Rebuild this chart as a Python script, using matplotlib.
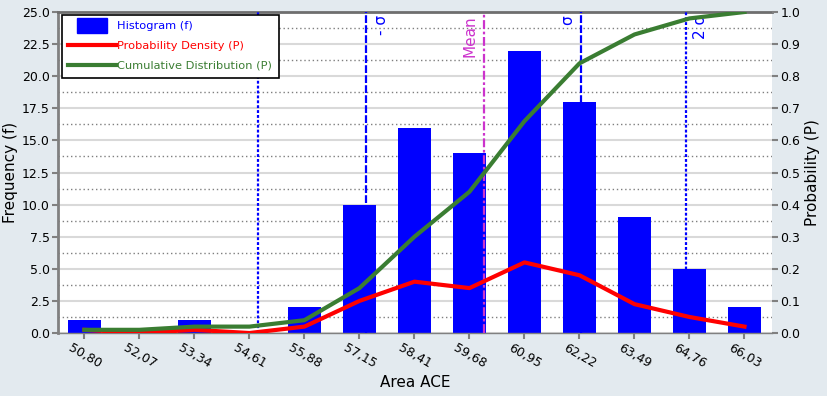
import matplotlib.pyplot as plt
import matplotlib.patches as mpatches
import matplotlib.transforms as mtransforms
from matplotlib.lines import Line2D
from matplotlib.legend_handler import HandlerPatch
import numpy as np

plt.rcParams['font.family'] = ['DejaVu Sans']

# data
bin_labels = ['50,80', '52,07', '53,34', '54,61', '55,88', '57,15', '58,41',
              '59,68', '60,95', '62,22', '63,49', '64,76', '66,03']
bin_centers = [50.80, 52.07, 53.34, 54.61, 55.88, 57.15, 58.41,
               59.68, 60.95, 62.22, 63.49, 64.76, 66.03]
frequency = [1, 0, 1, 0, 2, 10, 16, 14, 22, 18, 9, 5, 2]
density = [0.01, 0.0, 0.01, 0.0, 0.02, 0.10, 0.16, 0.14, 0.22, 0.18, 0.09, 0.05, 0.02]
cumulative = [0.01, 0.01, 0.02, 0.02, 0.04, 0.14, 0.30, 0.44, 0.66, 0.84, 0.93, 0.98, 1.00]

marker_names = ['- σ', 'Mean', 'σ', '2 σ']
marker_values = [57.30, 60.02, 62.25, 64.67]
minus2sigma = 54.81

BLUE = '#0000ff'
RED = '#ff0000'
GREEN = '#3a7d32'
MAGENTA = '#cc33cc'
BG = '#e3eaef'

fig = plt.figure(figsize=(8.27, 3.96), dpi=100, facecolor=BG)
ax = fig.add_axes([0.0701, 0.159, 0.8634, 0.8107])
ax2 = ax.twinx()

x = np.arange(len(bin_labels))
ax.bar(x, frequency, width=0.6, color=BLUE, zorder=2)

ax.set_xlim(-0.48, 12.5)
ax.set_ylim(0, 25)
ax.set_yticks(np.arange(0, 25.01, 2.5))
ax.set_yticks(np.arange(1.25, 25, 2.5), minor=True)
ax.yaxis.set_major_formatter(plt.FormatStrFormatter('%.1f'))
ax.yaxis.grid(True, which='major', color='#d9d9d9', lw=1.5)
ax.yaxis.grid(True, which='minor', color='#7f7f7f', ls=(0, (1, 2)), lw=1)
ax.set_axisbelow(True)
ax.set_xticks(x)
ax.set_xticklabels(bin_labels, rotation=-30, ha='center', fontsize=9)
ax.tick_params(axis='y', which='minor', length=0)
ax.tick_params(axis='y', which='major', length=4, width=1.5, color='#808080', labelsize=9, pad=2)
ax.tick_params(axis='x', length=4, width=1.5, color='#808080', pad=2)

ax.spines['top'].set_color('#6e6e6e')
ax.spines['top'].set_linewidth(2)
ax.spines['left'].set_color('#808080')
ax.spines['left'].set_linewidth(2)
ax.spines['bottom'].set_color('#808080')
ax.spines['bottom'].set_linewidth(1)
ax.spines['right'].set_visible(False)

ax.set_xlabel('Area ACE', fontsize=11, labelpad=3)
ax.set_ylabel('Frequency (f)', fontsize=11, labelpad=3)

# sigma / mean lines
xpos = np.interp(marker_values + [minus2sigma], bin_centers, x)
trans = mtransforms.blended_transform_factory(ax.transData, ax.transAxes)
styles = {
    '- σ': dict(color=BLUE, ls=(0, (3.5, 1)), lw=1.6),
    'Mean': dict(color=MAGENTA, ls=(0, (4, 1.2, 1.2, 1.2)), lw=1.6),
    'σ': dict(color=BLUE, ls=(0, (3.5, 1)), lw=1.6),
    '2 σ': dict(color=BLUE, ls=(0, (1.3, 0.9)), lw=1.6),
}
offsets = {'- σ': 0.29, 'Mean': -0.25, 'σ': -0.24, '2 σ': 0.27}
for name, xp in zip(marker_names, xpos[:4]):
    st = styles[name]
    ax.axvline(xp, zorder=3, **st)
    ax.text(xp + offsets[name], 0.99, name, transform=trans, rotation=90,
            ha='center', va='top', color=st['color'], fontsize=11)
ax.axvline(xpos[4], zorder=3, color=BLUE, ls=(0, (1.3, 0.9)), lw=1.6)

# probability curves
ax2.plot(x, density, color=RED, lw=3)
ax2.plot(x, cumulative, color=GREEN, lw=3)
ax2.set_ylim(0, 1)
ax2.set_yticks(np.arange(0, 1.01, 0.1))
ax2.yaxis.set_major_formatter(plt.FormatStrFormatter('%.1f'))
ax2.tick_params(axis='y', length=4, width=1.5, color='#808080', labelsize=9, pad=2)
for s in ax2.spines.values():
    s.set_visible(False)
ax2.set_ylabel('Probability (P)', fontsize=11, labelpad=3)


def small_box(legend, orig_handle, xdescent, ydescent, width, height, fontsize):
    return mpatches.Rectangle((width * 0.19 - xdescent, -ydescent - height * 0.45),
                              width * 0.62, height * 1.9)


handles = [mpatches.Patch(color=BLUE),
           Line2D([], [], color=RED, lw=3),
           Line2D([], [], color=GREEN, lw=3)]
labels = ['Histogram (f)', 'Probability Density (P)', 'Cumulative Distribution (P)']
leg = ax2.legend(handles, labels, loc='upper left', bbox_to_anchor=(0.005, 0.992),
                 borderaxespad=0, fancybox=False, framealpha=1, edgecolor='black',
                 fontsize=8.2, handlelength=4.2, handletextpad=0.1, labelspacing=0.85,
                 borderpad=0.6,
                 handler_map={mpatches.Patch: HandlerPatch(patch_func=small_box)})
leg.get_frame().set_linewidth(1.2)
for t, c in zip(leg.get_texts(), [BLUE, RED, GREEN]):
    t.set_color(c)

plt.savefig('out.png', dpi=100, facecolor=BG)
